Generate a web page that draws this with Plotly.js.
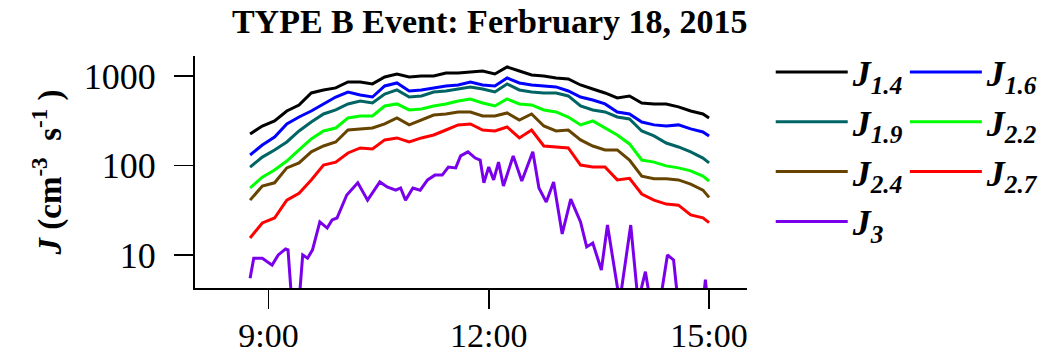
<!DOCTYPE html>
<html><head><meta charset="utf-8">
<script src="https://cdn.plot.ly/plotly-3.0.1.min.js"></script>
<style>body{margin:0;background:#fff}#chart{width:1055px;height:355px}</style>
</head><body><div id="chart"></div>
<script>
const DAY = '2015-02-18 ';
const times = ['08:45','08:55','09:05','09:15','09:25','09:35','09:45','09:55','10:05','10:15','10:25','10:35','10:45','10:55','11:05','11:15','11:25','11:35','11:45','11:55','12:05','12:15','12:25','12:35','12:45','12:55','13:05','13:15','13:25','13:35','13:45','13:55','14:05','14:15','14:25','14:35','14:45','14:55','15:00'];
const j14 = [225,276,314,406,474,646,698,735,857,857,815,975,1052,975,1000,1000,1080,1080,1108,1137,1052,1260,1137,1026,1000,950,926,793,716,646,568,598,499,487,487,451,406,376,340];
const j16 = [131,169,208,291,348,406,487,582,662,614,582,773,835,680,698,735,773,793,857,793,773,950,835,793,773,754,680,582,539,487,396,376,306,284,276,284,256,237,214];
const j19 = [96,124,149,183,243,306,376,417,487,526,499,629,698,582,598,662,680,716,754,716,662,815,698,662,646,646,598,462,417,396,348,331,243,214,178,161,142,121,107];
const j22 = [56,74,89,112,149,198,243,262,340,357,357,462,487,417,428,462,487,526,553,499,462,553,487,474,417,396,348,284,314,262,219,174,115,109,99,94,87,76,67];
const j24 = [41,59,64,94,107,142,165,183,249,256,262,291,340,284,322,366,376,396,396,357,357,386,322,376,276,243,249,193,165,149,149,115,76,71,71,69,62,53,44];
const j27 = [15.5,22.8,25.9,41,49,69,101,109,138,157,153,193,203,183,203,219,249,284,291,249,243,269,203,249,165,161,157,101,96,96,69,72,48,41,37,36,28,26,23];
const j3Times = ['08:45','08:48','08:55','09:03','09:08','09:14','09:16','09:20','09:24','09:28','09:32','09:36','09:42','09:48','09:52','09:56','10:04','10:13','10:21','10:31','10:37','10:44','10:48','10:52','10:58','11:04','11:10','11:16','11:22','11:27','11:33','11:37','11:43','11:49','11:53','11:56','12:00','12:04','12:08','12:12','12:20','12:27','12:36','12:41','12:47','12:53','13:00','13:07','13:15','13:20','13:25','13:32','13:37','13:47','13:56','14:02','14:08','14:12','14:20','14:26','14:31','14:36','14:54','14:57','15:00'];
const j3 = [5.5,9.2,9.2,7.7,10,11.7,11.4,2,2,10,9.2,11.4,23.4,20,24.6,25.9,46.8,64,41,65.5,57.5,53,56,41,56,53,69,78,78,96,94,128,142,121,115,64,96,69,109,59,128,67,142,56,39,65.5,17.2,42,23.4,12.3,13.6,6.8,21.6,3,21.6,3,6.5,3,3,10,8.8,2,2,5.3,2];
const xTickTimes = ['09:00','12:00','15:00'];
const xTickLabels = ['9:00','12:00','15:00'];
const yTickVals = [10,100,1000];
const yTickLabels = ['10','100','1000'];

const FONT = 'Liberation Serif, Times New Roman, serif';
const toX = a => a.map(t => DAY + t);

function tr(name, tms, vals, color, legend) {
  return {type:'scatter', mode:'lines', x: toX(tms), y: vals,
    name: '<b><i>' + name + '</i></b>', legend: legend,
    line:{color: color, width: 3}, hoverinfo:'skip'};
}
const data = [
  tr('J<sub>1.4</sub>', times, j14, '#000000', 'legend'),
  tr('J<sub>1.6</sub>', times, j16, '#0000ff', 'legend2'),
  tr('J<sub>1.9</sub>', times, j19, '#006464', 'legend'),
  tr('J<sub>2.2</sub>', times, j22, '#00ff00', 'legend2'),
  tr('J<sub>2.4</sub>', times, j24, '#664400', 'legend'),
  tr('J<sub>2.7</sub>', times, j27, '#ff0000', 'legend2'),
  tr('J<sub>3</sub>', j3Times, j3, '#7a00ec', 'legend')
];
const legBase = {yanchor:'top', xanchor:'left', itemwidth:72, bgcolor:'rgba(0,0,0,0)', maxheight:330,
  font:{family:FONT, size:36, color:'#000'}, tracegroupgap:0, itemclick:false};
const layout = {
  width:1055, height:355,
  margin:{l:195, r:308, t:56, b:67, autoexpand:false},
  paper_bgcolor:'#fff', plot_bgcolor:'#fff',
  font:{family:FONT, color:'#000'},
  title:{text:'<b>TYPE B Event: Ferbruary 18, 2015</b>', font:{family:FONT, size:34, color:'#000'},
    xref:'paper', x:0.534, xanchor:'center', yref:'container', y:0.94, yanchor:'middle'},
  xaxis:{type:'date', range:[DAY+'08:00', DAY+'15:31'], tickvals: toX(xTickTimes), ticktext: xTickLabels,
    showgrid:false, zeroline:false, showline:true, linecolor:'#000', linewidth:2,
    ticks:'outside', ticklen:19, tickwidth:1.5, tickcolor:'#000', ticklabelstandoff:-3,
    tickfont:{family:FONT, size:34, color:'#000'}},
  yaxis:{type:'log', range:[0.631, 3.223], tickvals:yTickVals, ticktext:yTickLabels,
    showgrid:false, zeroline:false, showline:true, linecolor:'#000', linewidth:2,
    ticks:'outside', ticklen:19, tickwidth:1.5, tickcolor:'#000', ticklabelstandoff:11,
    tickfont:{family:FONT, size:36, color:'#000'},
    title:{text:'<b><i>J</i> (cm<sup>-3</sup>&nbsp;&nbsp;s<sup>-1</sup>&nbsp;)</b>', standoff:12, font:{family:FONT, size:33, color:'#000'}}},
  legend: Object.assign({x:1.043, y:1.06}, legBase),
  legend2: Object.assign({x:1.286, y:1.06}, legBase),
  showlegend:true
};
Plotly.newPlot('chart', data, layout, {staticPlot:true, displayModeBar:false});
</script></body></html>
